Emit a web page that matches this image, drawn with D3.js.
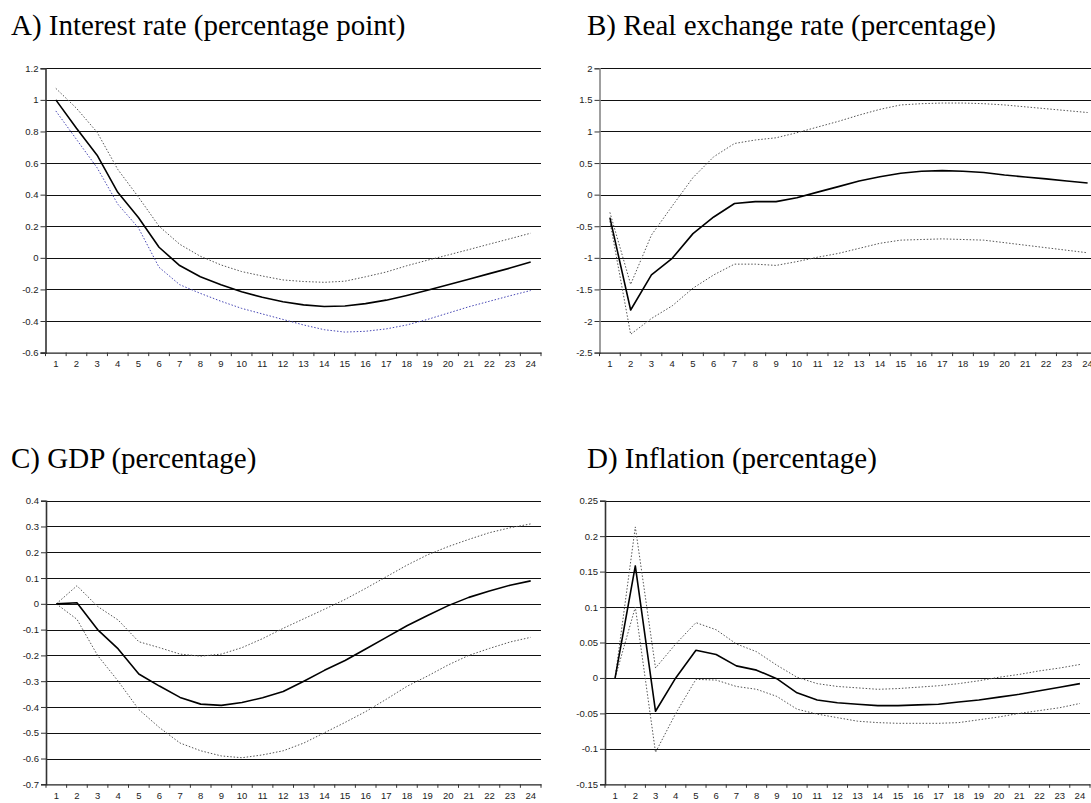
<!DOCTYPE html>
<html>
<head>
<meta charset="utf-8">
<script src="https://cdn.jsdelivr.net/npm/d3@7"></script>
<style>
  html, body { margin: 0; padding: 0; background: #fff; }
  svg { display: block; }
</style>
</head>
<body>
<svg id="chart" width="1091" height="803"></svg>
<script>
// ---- data ----
const periods = [1,2,3,4,5,6,7,8,9,10,11,12,13,14,15,16,17,18,19,20,21,22,23,24];

const rateMid = [1.0, 0.82, 0.65, 0.415, 0.255, 0.067, -0.049, -0.12, -0.17, -0.215, -0.25, -0.278, -0.298, -0.308, -0.305, -0.29, -0.268, -0.238, -0.205, -0.17, -0.135, -0.1, -0.065, -0.027];
const rateUp  = [1.073, 0.947, 0.795, 0.56, 0.385, 0.2, 0.086, 0.01, -0.045, -0.087, -0.115, -0.14, -0.15, -0.155, -0.148, -0.12, -0.09, -0.05, -0.015, 0.018, 0.052, 0.087, 0.121, 0.156];
const rateLow = [0.93, 0.75, 0.57, 0.34, 0.19, -0.06, -0.17, -0.225, -0.275, -0.32, -0.355, -0.39, -0.425, -0.455, -0.47, -0.465, -0.45, -0.425, -0.39, -0.35, -0.31, -0.275, -0.24, -0.207];
const rateTicks = [-0.6, -0.4, -0.2, 0, 0.2, 0.4, 0.6, 0.8, 1, 1.2];

const rerMid = [-0.364, -1.826, -1.27, -1.008, -0.617, -0.353, -0.14, -0.11, -0.11, -0.05, 0.04, 0.127, 0.216, 0.284, 0.34, 0.37, 0.38, 0.37, 0.35, 0.31, 0.28, 0.25, 0.216, 0.185];
const rerUp  = [-0.28, -1.42, -0.64, -0.18, 0.27, 0.6, 0.81, 0.865, 0.9, 0.98, 1.07, 1.16, 1.26, 1.35, 1.42, 1.44, 1.45, 1.45, 1.44, 1.42, 1.39, 1.36, 1.33, 1.30];
const rerLow = [-0.42, -2.21, -1.96, -1.76, -1.48, -1.27, -1.10, -1.10, -1.12, -1.06, -0.99, -0.93, -0.85, -0.77, -0.72, -0.71, -0.70, -0.71, -0.72, -0.76, -0.80, -0.84, -0.88, -0.92];
const rerTicks = [-2.5, -2, -1.5, -1, -0.5, 0, 0.5, 1, 1.5, 2];

const gdpMid = [0, 0.004, -0.10, -0.175, -0.272, -0.319, -0.363, -0.389, -0.394, -0.383, -0.364, -0.34, -0.30, -0.258, -0.22, -0.175, -0.13, -0.085, -0.045, -0.007, 0.025, 0.05, 0.072, 0.089];
const gdpUp  = [0, 0.07, -0.01, -0.063, -0.147, -0.17, -0.195, -0.203, -0.195, -0.17, -0.135, -0.095, -0.058, -0.021, 0.017, 0.06, 0.105, 0.15, 0.19, 0.222, 0.25, 0.276, 0.295, 0.31];
const gdpLow = [0, -0.06, -0.2, -0.3, -0.41, -0.48, -0.54, -0.57, -0.59, -0.597, -0.586, -0.57, -0.54, -0.50, -0.46, -0.418, -0.37, -0.32, -0.28, -0.237, -0.2, -0.173, -0.148, -0.13];
const gdpTicks = [-0.7, -0.6, -0.5, -0.4, -0.3, -0.2, -0.1, 0, 0.1, 0.2, 0.3, 0.4];

const inflMid = [0, 0.158, -0.047, 0, 0.039, 0.033, 0.017, 0.011, -0.001, -0.021, -0.031, -0.035, -0.037, -0.039, -0.039, -0.038, -0.037, -0.034, -0.031, -0.027, -0.023, -0.018, -0.013, -0.008];
const inflUp  = [0, 0.213, 0.014, 0.048, 0.078, 0.068, 0.048, 0.037, 0.018, 0.001, -0.008, -0.012, -0.014, -0.016, -0.015, -0.013, -0.011, -0.008, -0.004, 0.001, 0.005, 0.01, 0.014, 0.019];
const inflLow = [0, 0.1, -0.105, -0.05, -0.002, -0.003, -0.012, -0.016, -0.026, -0.044, -0.051, -0.056, -0.061, -0.063, -0.064, -0.064, -0.064, -0.063, -0.059, -0.055, -0.05, -0.046, -0.042, -0.036];
const inflTicks = [-0.15, -0.1, -0.05, 0, 0.05, 0.1, 0.15, 0.2, 0.25];

const titles = [
  "A) Interest rate (percentage point)",
  "B) Real exchange rate (percentage)",
  "C) GDP (percentage)",
  "D) Inflation (percentage)"
];

// ---- layout ----
const panels = [
  { title: titles[0], mid: rateMid, up: rateUp, low: rateLow, ticks: rateTicks,
    x0: 45.5, x1: 541, yT: 68.3, yB: 352.6, tx: 11, ty: 35, axisColor: "#333", lowColor: "#4646b4" },
  { title: titles[1], mid: rerMid, up: rerUp, low: rerLow, ticks: rerTicks,
    x0: 599.5, x1: 1098, yT: 68.3, yB: 352.6, tx: 587, ty: 35, axisColor: "#888", lowColor: "#555" },
  { title: titles[2], mid: gdpMid, up: gdpUp, low: gdpLow, ticks: gdpTicks,
    x0: 46, x1: 541, yT: 500.7, yB: 784.3, tx: 11, ty: 468, axisColor: "#333", lowColor: "#555" },
  { title: titles[3], mid: inflMid, up: inflUp, low: inflLow, ticks: inflTicks,
    x0: 605, x1: 1090, yT: 500.7, yB: 784.3, tx: 587, ty: 468, axisColor: "#333", lowColor: "#555" }
];

const svg = d3.select("#chart");
const fmt = v => String(+v.toFixed(2));

panels.forEach(p => {
  const g = svg.append("g");
  const x = d3.scaleBand().domain(periods).range([p.x0, p.x1]).padding(0);
  const y = d3.scaleLinear().domain([d3.min(p.ticks), d3.max(p.ticks)]).range([p.yB, p.yT]);
  const cx = d => x(d) + x.bandwidth() / 2;

  // title
  g.append("text")
    .attr("x", p.tx).attr("y", p.ty)
    .attr("font-family", "'Liberation Serif', 'Times New Roman', serif")
    .attr("font-size", 29)
    .attr("fill", "#000")
    .text(p.title);

  // gridlines
  g.append("g").selectAll("line")
    .data(p.ticks.filter(t => t !== d3.min(p.ticks)))
    .join("line")
    .attr("x1", p.x0).attr("x2", p.x1)
    .attr("y1", d => Math.round(y(d)) + 0.5).attr("y2", d => Math.round(y(d)) + 0.5)
    .attr("stroke", "#111").attr("stroke-width", 1);

  // y axis
  const ya = g.append("g")
    .attr("transform", `translate(${p.x0},0)`)
    .call(d3.axisLeft(y).tickValues(p.ticks).tickSize(5).tickPadding(2).tickFormat(fmt));
  ya.select(".domain").attr("stroke", p.axisColor).attr("stroke-width", 1.6);
  ya.selectAll(".tick line").attr("stroke", "#333");
  ya.selectAll("text")
    .attr("font-family", "'Liberation Sans', Arial, sans-serif")
    .attr("font-size", 9.5).attr("fill", "#222");

  // x axis (labels) and boundary ticks
  const xa = g.append("g")
    .attr("transform", `translate(0,${p.yB})`)
    .call(d3.axisBottom(x).tickSize(0).tickPadding(8).tickSizeOuter(0));
  xa.select(".domain").attr("stroke", "#222").attr("stroke-width", 1.2);
  xa.selectAll("text")
    .attr("font-family", "'Liberation Sans', Arial, sans-serif")
    .attr("font-size", 9.5).attr("fill", "#222");
  const bounds = periods.map(d => x(d)).concat([x(periods[periods.length - 1]) + x.bandwidth()]);
  g.append("g").selectAll("line").data(bounds).join("line")
    .attr("x1", d => d).attr("x2", d => d)
    .attr("y1", p.yB).attr("y2", p.yB + 3.5)
    .attr("stroke", "#333").attr("stroke-width", 1);

  const line = d3.line().x((d, i) => cx(periods[i])).y(d => y(d));

  g.append("path").datum(p.up).attr("d", line)
    .attr("fill", "none").attr("stroke", "#555").attr("stroke-width", 1)
    .attr("stroke-dasharray", "1.5,1.8");
  g.append("path").datum(p.low).attr("d", line)
    .attr("fill", "none").attr("stroke", p.lowColor).attr("stroke-width", 1)
    .attr("stroke-dasharray", "1.5,1.8");
  g.append("path").datum(p.mid).attr("d", line)
    .attr("fill", "none").attr("stroke", "#000").attr("stroke-width", 1.6)
    .attr("stroke-linejoin", "round");
});
</script>
</body>
</html>
